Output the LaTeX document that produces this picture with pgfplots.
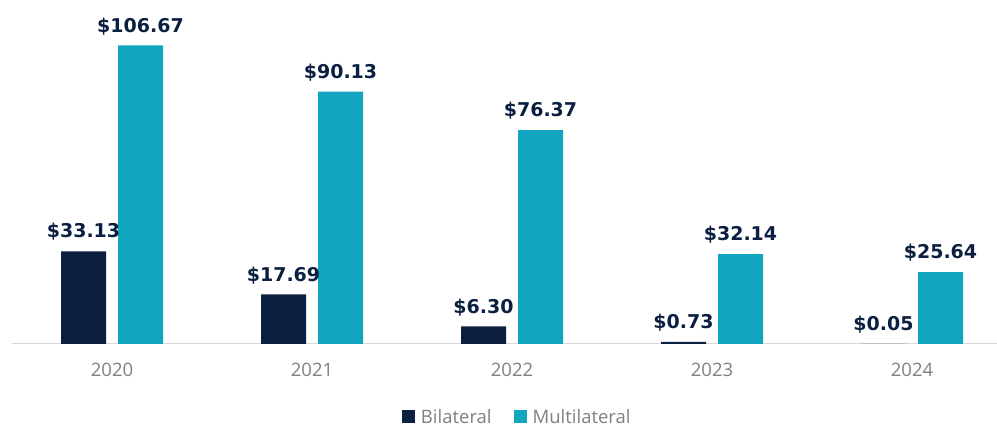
\documentclass[border=0pt]{standalone}
\usepackage{pgfplots}
\pgfplotsset{compat=1.18}
\usepackage{fontspec}
\setmainfont{Open Sans}
\newfontfamily\labelfont{DejaVu Sans}

\definecolor{navy}{HTML}{0B1F40}
\definecolor{teal}{HTML}{11A5BF}
\definecolor{tickgray}{HTML}{7F7F7F}
\definecolor{linegray}{HTML}{D9D9D9}

\begin{document}
\begin{tikzpicture}[x=1pt,y=1pt]
\path[use as bounding box] (0,0) rectangle (997,427);
\begin{axis}[
    at={(12pt,83pt)}, anchor=south west,
    scale only axis,
    width=985pt, height=344pt,
    xmin=-0.5, xmax=4.425,
    ymin=0, ymax=122.9,
    axis y line=none,
    axis x line*=bottom,
    x axis line style={draw=linegray, line width=1pt, -},
    xtick={0,1,2,3,4},
    xticklabels={2020,2021,2022,2023,2024},
    major tick length=0pt,
    xticklabel style={font=\fontsize{18.5}{20}\selectfont, text=tickgray, anchor=north, yshift=-16pt},
    ybar,
    bar width=0.225,
    clip=false,
    /pgf/number format/assume math mode=true,
    nodes near coords={\$\pgfmathprintnumber[fixed,fixed zerofill,precision=2]{\pgfplotspointmeta}},
    every node near coord/.append style={font=\labelfont\bfseries\fontsize{19}{21}\selectfont, text=navy, anchor=south, yshift=7pt},
    legend style={at={(0.513,-0.212)}, anchor=center, draw=none, fill=none,
        font=\fontsize{18.5}{20}\selectfont, text=tickgray,
        legend columns=2, /tikz/every even column/.append style={column sep=20pt}},
    legend image code/.code={\fill[#1] (0pt,-6.5pt) rectangle (13pt,6.5pt); \path (17pt,0pt);},
    legend cell align=left,
]
\addplot[fill=navy, draw=none, bar shift=-0.1425] coordinates {
    (0,33.13) (1,17.69) (2,6.30) (3,0.73) (4,0.05)
};
\addplot[fill=teal, draw=none, bar shift=0.1425] coordinates {
    (0,106.67) (1,90.13) (2,76.37) (3,32.14) (4,25.64)
};
\legend{Bilateral, Multilateral}
\end{axis}
\end{tikzpicture}
\end{document}
